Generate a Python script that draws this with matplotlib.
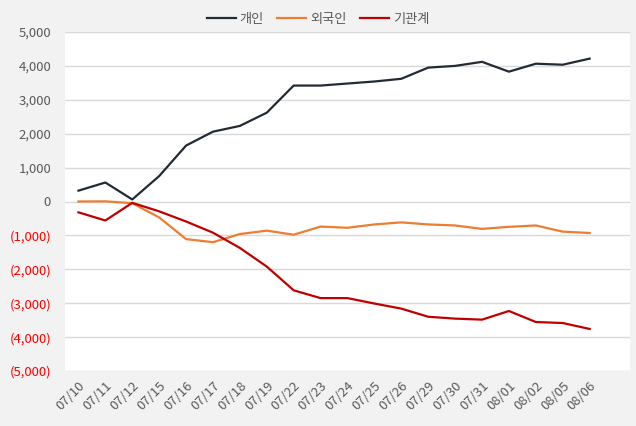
import matplotlib
matplotlib.use("Agg")
import matplotlib.pyplot as plt
from matplotlib.ticker import FuncFormatter, MultipleLocator

dates = ["07/10", "07/11", "07/12", "07/15", "07/16", "07/17", "07/18", "07/19",
         "07/22", "07/23", "07/24", "07/25", "07/26", "07/29", "07/30", "07/31",
         "08/01", "08/02", "08/05", "08/06"]
individual = [320, 560, 60, 750, 1650, 2060, 2230, 2620, 3420, 3420, 3480, 3540,
              3620, 3950, 4000, 4120, 3830, 4065, 4035, 4215]
foreign = [0, 5, -50, -470, -1110, -1200, -960, -860, -980, -740, -775, -677,
           -616, -677, -707, -808, -747, -707, -889, -929]
institution = [-320, -560, -40, -290, -590, -920, -1370, -1920, -2620, -2850,
               -2850, -3010, -3160, -3400, -3455, -3485, -3230, -3555, -3585, -3760]
series_names = ["개인", "외국인", "기관계"]

plt.rcParams['font.family'] = ['Noto Sans CJK KR', 'DejaVu Sans']

fig = plt.figure(figsize=(6.36, 4.26), dpi=100, facecolor="#f2f2f2")
ax = fig.add_axes([65/636, 1-371/426, 565/636, 339/426])
ax.set_facecolor("white")

x = list(range(len(dates)))
ax.plot(x, individual, color="#222a35", lw=1.6, label=series_names[0])
ax.plot(x, foreign, color="#ed7d31", lw=1.6, label=series_names[1])
ax.plot(x, institution, color="#c00000", lw=1.6, label=series_names[2])

ax.set_xlim(-0.5, 20.5)
ax.set_ylim(-5000, 5000)
ax.yaxis.set_major_locator(MultipleLocator(1000))
ax.grid(axis="y", color="#d9d9d9", lw=1)
ax.set_axisbelow(True)
for s in ax.spines.values():
    s.set_visible(False)

def fmt(v, pos):
    v = int(round(v))
    if v < 0:
        return "({:,})".format(-v)
    return "{:,}".format(v)

ax.yaxis.set_major_formatter(FuncFormatter(fmt))
ax.tick_params(axis="y", length=0, pad=10, labelsize=9.5, labelcolor="#595959")
for lab, v in zip(ax.get_yticklabels(), ax.get_yticks()):
    pass
fig.canvas.draw()
for lab in ax.get_yticklabels():
    if lab.get_text().startswith("("):
        lab.set_color("#ff0000")

ax.set_xticks(x)
ax.set_xticklabels(dates, rotation=45, ha="right", rotation_mode="anchor")
ax.tick_params(axis="x", length=0, pad=6, labelsize=9.5, labelcolor="#595959")

fig.legend(loc="center", bbox_to_anchor=(0.5, 1-19/426), ncol=3, frameon=False,
           fontsize=9.5, handlelength=2.2, handletextpad=0.3, columnspacing=1.0,
           labelcolor="#595959")

fig.savefig("out.png", dpi=100, facecolor=fig.get_facecolor())
